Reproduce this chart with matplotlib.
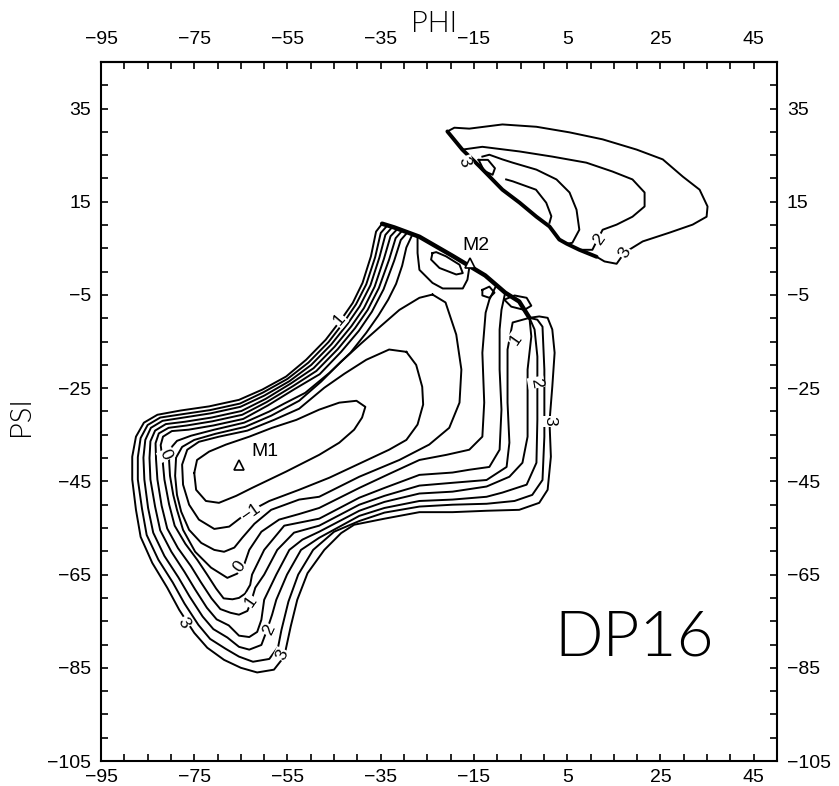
import matplotlib
matplotlib.use("Agg")

import matplotlib.pyplot as plt

plt.rcParams['font.family'] = ['Liberation Sans', 'DejaVu Sans']

# main basin around M1, levels -1.5 ... 3.0 every 0.5
c_m15_phi = [-75.0, -74.4, -71.8, -68.2, -63.2, -58.3, -53.1, -48.2, -43.9, -40.2, -38.3, -39.0, -40.7, -43.9, -48.2,
             -55.3, -62.6, -66.0, -69.7, -72.5, -74.6, -75.0]
c_m15_psi = [-43.2, -40.4, -38.6, -37.1, -35.4, -33.5, -31.8, -29.6, -28.1, -27.7, -29.0, -31.3, -33.9, -36.7, -39.3,
             -42.9, -46.4, -48.1, -49.6, -49.2, -46.8, -43.2]

c_m10_phi = [-29.5, -33.2, -38.1, -42.8, -47.1, -52.5, -57.9, -63.6, -69.7, -74.0, -76.5, -77.6, -77.4, -76.1, -74.0,
             -70.7, -67.5, -63.6, -58.9, -52.5, -46.0, -39.6, -33.2, -29.5, -27.1, -25.9, -26.1, -27.4, -29.5]
c_m10_psi = [-17.2, -16.7, -18.9, -21.9, -24.9, -29.4, -31.8, -34.1, -35.4, -36.5, -38.2, -41.4, -45.7, -50.0, -53.2,
             -55.2, -54.7, -51.7, -49.2, -46.8, -44.2, -41.2, -38.2, -36.1, -32.8, -28.5, -24.7, -20.0, -17.2]

c_m05_phi = [-23.9, -26.7, -31.0, -34.9, -39.2, -43.5, -47.8, -52.5, -58.5, -64.1, -70.5, -75.0, -77.6, -78.9, -79.1,
             -78.7, -77.8, -76.1, -73.5, -70.7, -68.6, -66.4, -64.7, -62.1, -58.5, -52.5, -48.2, -39.6, -31.0, -24.6,
             -20.3, -18.1, -17.7, -18.8, -21.1, -23.9]
c_m05_psi = [-4.9, -5.6, -8.2, -11.6, -15.4, -19.3, -23.6, -27.7, -30.9, -33.3, -34.8, -36.1, -37.6, -39.9, -43.8,
             -47.9, -51.5, -55.4, -58.2, -59.7, -60.1, -59.2, -57.1, -54.1, -51.1, -48.9, -48.3, -44.0, -40.4, -37.1,
             -33.5, -28.1, -21.0, -13.5, -6.6, -4.9]

c_00_phi = [-10.2, -12.6, -19.6, -26.7, -28.2, -29.5, -30.4, -31.7, -33.4, -35.5, -38.1, -41.5, -46.0, -51.2, -55.7,
            -58.9, -64.3, -70.7, -75.7, -78.7, -80.0, -80.4, -80.2, -79.5, -78.7, -77.4, -74.8, -71.4, -67.9, -65.8,
            -64.3, -63.2, -60.6, -56.8, -52.5, -48.2, -39.6, -33.2, -26.7, -20.9, -16.0, -13.2, -12.8, -13.2, -12.5,
            -11.7, -10.2]
c_00_psi = [-2.9, -0.8, 3.4, 7.5, 8.0, 5.2, 1.3, -2.6, -6.0, -9.4, -13.1, -17.4, -21.7, -26.0, -28.3,
            -30.0, -32.4, -33.9, -35.2, -36.3, -37.8, -40.4, -43.8, -47.9, -51.1, -55.4, -60.1, -63.5, -65.7, -64.8,
            -62.9, -59.7, -55.8, -53.2, -52.0, -50.7, -46.4, -43.4, -40.4, -39.3, -38.2, -35.4, -28.1, -17.4, -8.8,
            -6.0, -2.9]

c_05_phi = [-29.3, -30.7, -32.1, -34.4, -36.9, -39.7, -43.5, -48.1, -53.5, -59.2, -64.5, -70.9, -76.2, -79.8, -81.7,
            -82.2, -81.8, -81.4, -80.4, -79.2, -76.9, -74.3, -72.3, -70.3, -68.7, -66.8, -65.4, -64.1, -63.0, -62.6,
            -60.0, -55.7, -48.2, -39.6, -34.2, -26.7, -19.6, -16.0, -11.7, -9.5, -9.1, -9.5, -9.5, -9.1, -8.3,
            -12.6, -19.6, -26.7, -29.3]
c_05_psi = [8.4, 6.8, 2.4, -3.8, -8.6, -12.7, -17.2, -22.0, -25.2, -28.7, -31.6, -33.0, -33.9, -34.2, -35.4,
            -37.2, -40.3, -44.6, -49.9, -54.5, -58.4, -61.9, -64.9, -68.0, -70.1, -70.3, -70.0, -69.1, -67.2, -65.0,
            -59.7, -54.5, -53.0, -48.5, -46.4, -43.6, -43.1, -42.5, -41.9, -38.2, -29.6, -21.0, -12.4, -8.2, -4.5,
            -0.8, 3.4, 7.5, 8.4]

c_10_phi = [-30.4, -31.8, -33.2, -35.4, -37.8, -40.5, -44.2, -48.8, -53.9, -59.5, -64.7, -71.1, -76.6, -80.5, -82.6,
            -83.3, -83.2, -82.9, -82.0, -80.8, -78.5, -75.7, -73.6, -71.3, -69.4, -67.2, -65.4, -63.6, -62.8, -61.9,
            -60.0, -57.2, -53.6, -48.2, -39.6, -34.2, -26.7, -19.6, -12.3, -8.0, -7.4, -7.8, -7.8, -6.7, -3.1,
            -5.3, -8.3, -12.6, -19.6, -26.7, -30.4]
c_10_psi = [8.8, 7.2, 2.6, -3.5, -8.2, -12.1, -16.6, -21.3, -24.6, -28.0, -30.7, -32.1, -33.0, -33.5, -34.7,
            -36.8, -40.2, -44.6, -50.2, -55.1, -59.3, -63.2, -66.6, -70.1, -72.4, -73.2, -73.6, -72.8, -70.8, -67.8,
            -65.0, -59.7, -56.0, -54.5, -50.0, -48.1, -45.9, -45.3, -44.7, -41.9, -36.7, -28.1, -16.7, -10.9, -9.9,
            -6.4, -4.5, -0.8, 3.4, 7.5, 8.8]

c_15_phi = [-31.4, -32.9, -34.3, -36.3, -38.6, -41.3, -44.9, -49.4, -54.3, -59.7, -64.9, -71.3, -77.0, -81.1, -83.4,
            -84.4, -84.6, -84.4, -83.4, -82.3, -79.9, -77.1, -74.8, -72.3, -70.2, -67.6, -65.4, -63.2, -61.5, -60.6,
            -60.0, -57.4, -54.6, -51.8, -48.2, -39.6, -34.2, -26.7, -19.6, -12.3, -7.4, -4.6, -3.5, -3.5, -2.7,
            -3.1, -5.3, -8.3, -12.6, -19.6, -26.7, -31.4]
c_15_psi = [9.2, 7.6, 2.8, -3.2, -7.8, -11.7, -16.1, -20.7, -24.0, -27.3, -29.9, -31.3, -32.2, -32.7, -34.1,
            -36.4, -40.0, -44.6, -50.4, -55.5, -60.1, -64.4, -68.2, -72.1, -74.6, -75.9, -78.1, -78.4, -77.3, -74.7,
            -70.4, -65.0, -59.7, -57.5, -55.8, -51.3, -49.4, -47.6, -47.2, -46.1, -44.0, -41.0, -35.4, -21.0, -13.9,
            -9.9, -6.4, -4.5, -0.8, 3.4, 7.5, 9.2]

c_20_phi = [-32.5, -34.0, -35.3, -37.2, -39.5, -42.1, -45.6, -49.9, -54.6, -60.0, -65.1, -71.5, -77.3, -81.8, -84.3,
            -85.5, -85.9, -85.7, -84.9, -83.8, -81.4, -78.4, -76.0, -73.2, -70.9, -67.9, -65.4, -63.2, -60.6, -59.4,
            -58.3, -57.4, -55.1, -52.1, -48.2, -39.6, -34.2, -26.7, -19.6, -12.3, -8.9, -3.7, -1.6, -1.4, -1.4,
            -2.0, -3.1, -5.3, -8.3, -12.6, -19.6, -26.7, -32.1, -32.5]
c_20_psi = [9.6, 7.9, 3.0, -2.9, -7.4, -11.2, -15.6, -20.0, -23.5, -26.6, -29.0, -30.4, -31.3, -32.0, -33.5,
            -36.1, -39.9, -44.6, -50.7, -56.0, -61.0, -65.6, -69.7, -74.0, -76.7, -78.5, -80.5, -81.1, -80.1, -76.9,
            -73.6, -70.4, -65.0, -59.7, -57.1, -52.4, -50.7, -49.2, -48.9, -48.3, -47.4, -45.7, -41.0, -31.8, -18.2,
            -12.4, -9.9, -6.4, -4.5, -0.8, 3.4, 7.5, 9.5, 9.6]

c_25_phi = [-33.6, -35.0, -36.2, -38.1, -40.3, -42.8, -46.2, -50.5, -55.0, -60.2, -65.2, -71.6, -77.7, -82.3, -85.0,
            -86.5, -87.1, -87.1, -86.2, -85.2, -82.7, -79.6, -77.1, -74.1, -71.6, -68.3, -65.4, -62.4, -58.9, -57.0,
            -56.3, -54.8, -52.7, -49.5, -45.0, -39.6, -34.2, -26.7, -19.6, -12.3, -6.3, -2.5, -0.3, 0.1, 0.1,
            -0.3, -1.4, -3.1, -5.3, -8.3, -12.6, -19.6, -26.7, -32.1, -33.6]
c_25_psi = [9.9, 8.3, 3.1, -2.7, -7.0, -10.7, -15.1, -19.5, -23.0, -25.9, -28.3, -29.7, -30.6, -31.3, -32.9,
            -35.7, -39.8, -44.6, -50.9, -56.5, -61.8, -66.7, -71.2, -75.8, -78.8, -80.9, -82.6, -83.7, -83.1, -80.5,
            -76.9, -70.8, -65.0, -59.7, -55.8, -53.5, -51.7, -50.4, -50.0, -49.8, -49.2, -47.9, -44.7, -35.4, -21.0,
            -11.8, -10.3, -9.9, -6.4, -4.5, -0.8, 3.4, 7.5, 9.5, 9.9]

c_30_phi = [-34.7, -36.0, -37.1, -38.9, -41.0, -43.5, -46.8, -51.0, -55.3, -60.4, -65.4, -71.8, -78.0, -82.9, -85.8,
            -87.5, -88.3, -88.3, -87.5, -86.5, -84.0, -80.8, -78.2, -75.0, -72.2, -68.6, -65.0, -61.5, -57.9, -55.7,
            -54.3, -52.9, -50.7, -47.1, -43.5, -40.7, -34.2, -26.7, -19.6, -12.3, -5.3, -1.0, 0.8, 1.5, 1.2,
            1.8, 2.3, 1.8, 0.8, -1.0, -3.1, -5.3, -8.3, -12.6, -19.6, -26.7, -32.1, -34.7]
c_30_psi = [10.3, 8.6, 3.3, -2.4, -6.7, -10.3, -14.6, -18.9, -22.5, -25.3, -27.5, -28.9, -29.8, -30.7, -32.4,
            -35.4, -39.7, -44.6, -51.1, -56.9, -62.5, -67.8, -72.6, -77.5, -80.7, -83.3, -85.0, -86.0, -85.4, -82.6,
            -76.1, -70.4, -64.7, -59.7, -56.1, -54.3, -53.0, -51.6, -51.6, -51.3, -51.1, -49.6, -46.8, -39.7, -32.2,
            -24.7, -17.4, -12.4, -9.9, -9.6, -9.9, -6.4, -4.5, -0.8, 3.4, 7.5, 9.5, 10.3]

# the crest where the outer contours of the main basin pile up
ridge_phi = [-34.7, -32.1, -26.7, -19.6, -12.6, -8.3, -5.3, -3.1]
ridge_psi = [10.3, 9.5, 7.5, 3.4, -0.8, -4.5, -6.4, -9.9]

# small basin at M2 and knots along the crest
m2_in_phi = [-23.9, -24.2, -22.4, -18.8, -17.4, -18.1, -21.0, -23.1, -23.9]
m2_in_psi = [4.0, 2.6, 0.8, -0.6, -0.3, 1.5, 3.3, 4.2, 4.0]
m2_out_phi = [-27.1, -27.1, -26.7, -23.9, -21.7, -17.4, -16.4, -16.0]
m2_out_psi = [7.5, 4.0, 0.4, -2.4, -3.6, -3.6, -1.7, 0.9]
knot1_phi = [-13.2, -11.7, -10.6, -11.7, -13.2, -13.2]
knot1_psi = [-3.9, -3.2, -4.5, -5.6, -5.1, -3.9]
knot2_phi = [-8.5, -6.3, -3.7, -2.7, -4.2, -7.0, -8.5]
knot2_psi = [-6.0, -5.1, -5.6, -7.3, -8.2, -7.5, -6.0]

# upper basin (phi > -21, psi > 0)
up_ridge_phi = [-20.7, -17.5, -13.8, -8.9, -5.2, -1.6, 1.2, 3.3, 4.9, 7.6, 11.3]
up_ridge_psi = [30.1, 26.2, 22.6, 17.6, 14.8, 11.8, 9.7, 6.9, 6.0, 4.7, 3.2]

u_30_phi = [-20.7, -19.2, -16.0, -8.9, -1.6, 5.5, 12.6, 19.9, 25.5, 29.8, 33.4, 35.1, 34.9, 31.9, 27.0,
            21.2, 17.3, 15.6, 13.0, 11.3, 7.6, 4.9, 3.3, 1.2, -1.6, -5.2, -8.9, -13.8, -17.5, -20.7]
u_30_psi = [30.1, 30.9, 30.7, 31.6, 31.1, 29.9, 28.4, 26.2, 24.1, 20.4, 17.6, 14.0, 11.8, 10.1, 8.4,
            6.5, 4.1, 1.7, 2.2, 3.2, 4.7, 6.0, 6.9, 9.7, 11.8, 14.8, 17.6, 22.6, 26.2, 30.1]
u_20_phi = [-17.5, -13.2, -5.2, 1.8, 9.1, 14.7, 19.0, 21.6, 21.6, 19.0, 15.6, 12.6, 11.5, 10.4, 7.6,
            4.9, 3.3, 1.2, -1.6, -5.2, -8.9, -13.8, -17.5]
u_20_psi = [26.2, 26.8, 25.8, 24.7, 23.4, 21.5, 19.8, 17.0, 14.0, 11.8, 10.1, 9.0, 6.9, 4.7, 4.7,
            6.0, 6.9, 9.7, 11.8, 14.8, 17.6, 22.6, 26.2]
u_15_phi = [-13.2, -11.7, -8.9, -6.7, -1.6, 2.7, 5.5, 7.0, 7.6, 6.1, 4.9]
u_15_psi = [24.7, 25.1, 24.1, 23.4, 21.9, 19.8, 17.0, 13.3, 9.0, 6.2, 6.0]
u_10_phi = [-8.1, -6.7, -1.7, 0.5, 1.6, 1.2]
u_10_psi = [19.8, 19.4, 17.6, 14.8, 11.9, 10.5]
u_knot_phi = [-14.0, -12.0, -10.5, -11.0, -12.8, -14.0]
u_knot_psi = [24.0, 24.0, 22.2, 20.8, 21.6, 24.0]

# inline contour labels
lab_text = ["\u22121", "0", "1", "2", "3", "0", "3", "1", "1", "2", "3", "2", "3", "3"]
lab_phi = [-62.9, -65.4, -62.9, -58.9, -56.1, -81.1, -77.2, -43.9, -6.0, -1.7, 1.2, 11.9, 17.3, -17.0]
lab_psi = [-51.7, -63.3, -70.8, -76.9, -82.2, -39.3, -75.4, -10.3, -14.6, -23.8, -32.1, 6.9, 4.1, 23.5]
lab_rot = [35, 55, 55, 65, 65, -65, -60, 50, 55, -80, -90, 55, 60, -70]

# minima
min_name = ["M1", "M2"]
min_phi = [-65.4, -15.8]
min_psi = [-41.5, 1.9]

x_major = [-95, -75, -55, -35, -15, 5, 25, 45]
y_major = [35, 15, -5, -25, -45, -65, -85, -105]


def lab(v):
    return str(v).replace("-", "\u2212")


lines = [
    (c_m15_phi, c_m15_psi), (c_m10_phi, c_m10_psi), (c_m05_phi, c_m05_psi), (c_00_phi, c_00_psi),
    (c_05_phi, c_05_psi), (c_10_phi, c_10_psi), (c_15_phi, c_15_psi), (c_20_phi, c_20_psi),
    (c_25_phi, c_25_psi), (c_30_phi, c_30_psi),
    (m2_in_phi, m2_in_psi), (m2_out_phi, m2_out_psi), (knot1_phi, knot1_psi), (knot2_phi, knot2_psi),
    (u_30_phi, u_30_psi), (u_20_phi, u_20_psi), (u_15_phi, u_15_psi), (u_10_phi, u_10_psi),
    (u_knot_phi, u_knot_psi),
]

thin = ["Lato", "DejaVu Sans"]

fig = plt.figure(figsize=(8.39, 7.86), dpi=100)
ax = fig.add_axes([101 / 839, 25 / 786, 676 / 839, 699 / 786])

for phi, psi in lines:
    ax.plot(phi, psi, color="black", lw=1.4, solid_joinstyle="round", zorder=2)
ax.plot(ridge_phi, ridge_psi, color="black", lw=3.2, solid_capstyle="round", zorder=2)
ax.plot(up_ridge_phi, up_ridge_psi, color="black", lw=2.8, solid_capstyle="round", zorder=2)

for t, x, y, r in zip(lab_text, lab_phi, lab_psi, lab_rot):
    ax.text(x, y, t, rotation=r, rotation_mode="anchor", ha="center", va="center", fontsize=12.5,
            bbox=dict(boxstyle="square,pad=0.05", fc="white", ec="none"), zorder=3)

ax.plot(min_phi, min_psi, linestyle="none", marker="^", ms=7, mfc="white", mec="black", mew=1.2, zorder=4)
ax.text(min_phi[0] + 2.6, min_psi[0] + 3.0, min_name[0], fontsize=14, ha="left", va="center")
ax.text(min_phi[1] - 1.7, min_psi[1] + 3.8, min_name[1], fontsize=14, ha="left", va="center")

ax.text(19.3, -78.5, "DP16", fontsize=46, ha="center", va="center", family=thin, fontweight=300)

ax.set_xlim(-95, 50)
ax.set_ylim(-105, 45)
ax.set_xticks(x_major)
ax.set_xticklabels([lab(v) for v in x_major])
ax.set_xticks(range(-95, 51, 5), minor=True)
ax.set_yticks(y_major)
ax.set_yticklabels([lab(v) for v in y_major])
ax.set_yticks(range(-105, 46, 5), minor=True)
ax.tick_params(which="both", direction="in", length=5, width=1.2, top=False, right=True,
               labelright=True, labelsize=14)
ax.tick_params(axis="x", pad=6)
ax.tick_params(axis="y", pad=7)

top = ax.secondary_xaxis("top")
top.set_xticks(x_major)
top.set_xticklabels([lab(v) for v in x_major])
top.set_xticks(range(-95, 51, 5), minor=True)
top.tick_params(which="both", direction="in", length=5, width=1.2, labelsize=14, pad=10)

for s in ax.spines.values():
    s.set_linewidth(1.5)
top.spines["top"].set_linewidth(1.5)

fig.text(434 / 839, 1 - 24 / 786, "PHI", ha="center", va="center", fontsize=21, family=thin, fontweight=300)
fig.text(21 / 839, 1 - 416 / 786, "PSI", ha="center", va="center", rotation=90, fontsize=21,
         family=thin, fontweight=300)

fig.savefig("out.png", dpi=100)
